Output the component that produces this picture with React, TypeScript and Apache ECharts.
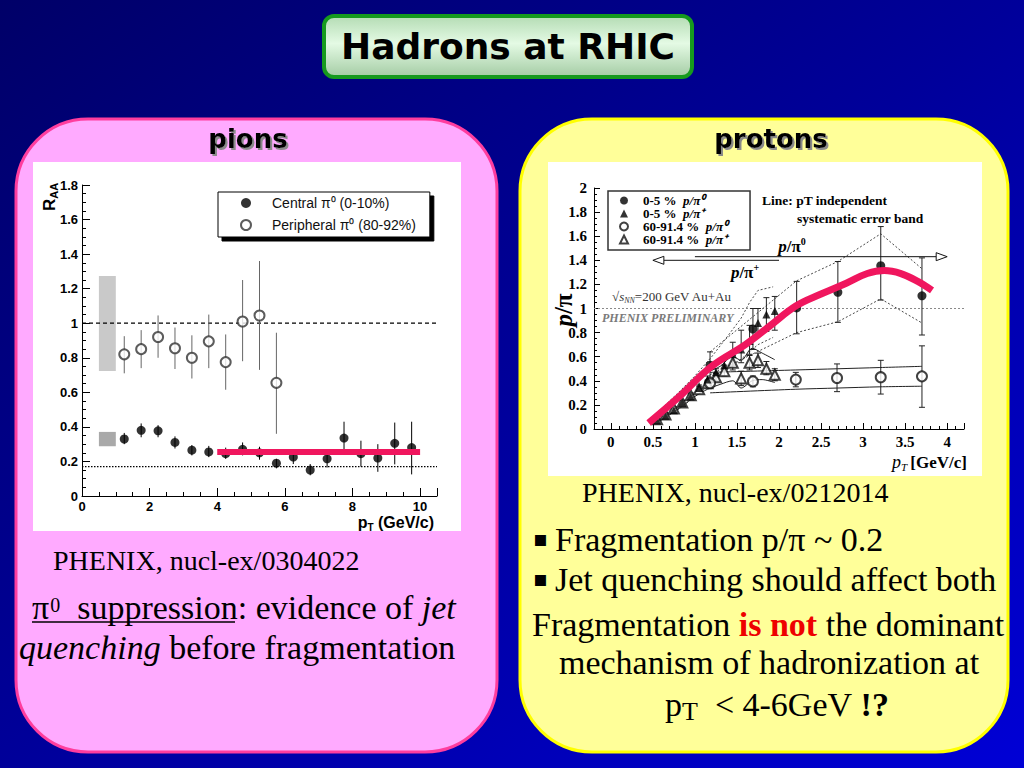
import React, { useEffect, useRef } from "react";
import * as echarts from "echarts";

// ================= Left chart: pi0 R_AA (PHENIX, nucl-ex/0304022) =================
const PION_X_MIN = 0;
const PION_X_MAX = 10.5;
const PION_X_STEP = 2;
const PION_Y_MIN = 0;
const PION_Y_MAX = 1.8;
const PION_Y_STEP = 0.2;

const CENTRAL_NAME = "Central π⁰ (0-10%)";
const PERIPH_NAME = "Peripheral π⁰ (80-92%)";

const CENTRAL_PT = [1.25, 1.75, 2.25, 2.75, 3.25, 3.75, 4.25, 4.75, 5.25, 5.75, 6.25, 6.75, 7.25, 7.75, 8.25, 8.75, 9.25, 9.75];
const CENTRAL_RAA = [0.33, 0.38, 0.377, 0.31, 0.265, 0.255, 0.245, 0.27, 0.25, 0.19, 0.225, 0.15, 0.215, 0.335, 0.245, 0.22, 0.305, 0.28];
const CENTRAL_LO = [0.3, 0.34, 0.34, 0.275, 0.235, 0.225, 0.215, 0.235, 0.21, 0.16, 0.185, 0.12, 0.165, 0.265, 0.17, 0.14, 0.183, 0.125];
const CENTRAL_HI = [0.365, 0.42, 0.41, 0.345, 0.295, 0.29, 0.28, 0.31, 0.285, 0.215, 0.26, 0.185, 0.26, 0.43, 0.32, 0.3, 0.425, 0.43];

const PERIPH_PT = [1.25, 1.75, 2.25, 2.75, 3.25, 3.75, 4.25, 4.75, 5.25, 5.75];
const PERIPH_RAA = [0.82, 0.85, 0.92, 0.855, 0.8, 0.895, 0.775, 1.01, 1.045, 0.655];
const PERIPH_LO = [0.71, 0.74, 0.8, 0.735, 0.68, 0.74, 0.615, 0.78, 0.73, 0.36];
const PERIPH_HI = [0.925, 0.96, 1.045, 0.975, 0.93, 1.05, 0.935, 1.25, 1.36, 0.945];

const PION_SYS_X = [0.5, 1.0];
const PION_SYS_PERIPH = [0.724, 1.273];
const PION_SYS_CENTRAL = [0.288, 0.371];
const PION_UNITY = 1;
const PION_NCOLL_SCALING = 0.17;
const PION_FIT_PT = [4, 10];
const PION_FIT_RAA = [0.255, 0.255];

// ================= Right chart: p/pi (PHENIX, nucl-ex/0212014) =================
const PROT_X_MIN = -0.2;
const PROT_X_MAX = 4.2;
const PROT_Y_MIN = 0;
const PROT_Y_MAX = 2;
const PROT_Y_STEP = 0.2;

const C_PI0_NAME = "0-5 %  p/π⁰";
const C_PIP_NAME = "0-5 %  p/π⁺";
const P_PI0_NAME = "60-91.4 %  p/π⁰";
const P_PIP_NAME = "60-91.4 %  p/π⁺";

const C_PI0_PT = [1.18, 1.69, 2.21, 2.7, 3.21, 3.7];
const C_PI0_R = [0.53, 0.83, 1.005, 1.135, 1.355, 1.105];
const C_PI0_LO = [0.43, 0.66, 0.79, 0.885, 1.07, 0.78];
const C_PI0_HI = [0.64, 1.0, 1.225, 1.39, 1.68, 1.42];

const C_PIP_PT = [0.55, 0.65, 0.75, 0.85, 0.95, 1.05, 1.15, 1.25, 1.35, 1.45, 1.55, 1.65, 1.75, 1.85, 1.95];
const C_PIP_R = [0.07, 0.11, 0.155, 0.215, 0.27, 0.34, 0.41, 0.47, 0.53, 0.62, 0.66, 0.73, 0.88, 0.95, 0.98];
const C_PIP_LO = [0.06, 0.095, 0.14, 0.195, 0.25, 0.315, 0.38, 0.44, 0.48, 0.53, 0.55, 0.62, 0.78, 0.81, 0.82];
const C_PIP_HI = [0.08, 0.125, 0.17, 0.235, 0.29, 0.365, 0.44, 0.5, 0.58, 0.72, 0.82, 0.86, 1.0, 1.09, 1.1];

const P_PI0_PT = [1.18, 1.69, 2.2, 2.69, 3.21, 3.7];
const P_PI0_R = [0.38, 0.395, 0.41, 0.423, 0.43, 0.437];
const P_PI0_LO = [0.35, 0.35, 0.35, 0.31, 0.29, 0.18];
const P_PI0_HI = [0.41, 0.44, 0.47, 0.54, 0.57, 0.69];

const P_PIP_PT = [0.55, 0.65, 0.75, 0.85, 0.95, 1.05, 1.15, 1.25, 1.35, 1.45, 1.55, 1.65, 1.75, 1.85, 1.95];
const P_PIP_R = [0.08, 0.12, 0.17, 0.22, 0.28, 0.33, 0.38, 0.43, 0.48, 0.55, 0.42, 0.55, 0.57, 0.5, 0.45];
const P_PIP_LO = [0.07, 0.105, 0.155, 0.2, 0.26, 0.31, 0.355, 0.4, 0.44, 0.49, 0.36, 0.49, 0.51, 0.45, 0.4];
const P_PIP_HI = [0.09, 0.135, 0.185, 0.24, 0.3, 0.35, 0.405, 0.46, 0.53, 0.61, 0.48, 0.61, 0.63, 0.56, 0.5];

// systematic error bands
const C_PI0_BAND_PT = [1.18, 2.21, 2.7, 3.21, 3.7];
const C_PI0_BAND_HI = [0.64, 1.23, 1.39, 1.62, 1.33];
const C_PI0_BAND_LO = [0.45, 0.8, 0.89, 1.08, 0.88];
const C_PIP_BAND_PT = [0.5, 0.8, 1.0, 1.2, 1.4, 1.55, 1.65, 1.75, 1.93];
const C_PIP_BAND_HI = [0.1, 0.3, 0.44, 0.6, 0.78, 0.92, 1.05, 1.15, 1.18];
const C_PIP_BAND_LO = [0.04, 0.16, 0.27, 0.38, 0.5, 0.58, 0.64, 0.7, 0.76];
const P_PI0_BAND_PT = [1.18, 2.2, 2.7, 3.2, 3.7];
const P_PI0_BAND_HI = [0.47, 0.49, 0.5, 0.51, 0.52];
const P_PI0_BAND_LO = [0.3, 0.33, 0.34, 0.35, 0.355];
const P_PIP_BAND_PT = [0.55, 0.7, 0.85, 1.0, 1.15, 1.3, 1.45, 1.55, 1.68, 1.8, 1.95];
const P_PIP_BAND_HI = [0.11, 0.2, 0.28, 0.4, 0.47, 0.52, 0.6, 0.57, 0.67, 0.63, 0.575];
const P_PIP_BAND_LO = [0.05, 0.12, 0.19, 0.27, 0.33, 0.37, 0.4, 0.34, 0.4, 0.41, 0.385];

const PROT_UNITY = 1;
// arrows: [from, to, y]
const ARROW_PI0 = [1.0, 4.0, 1.43];
const ARROW_PIP = [2.0, 0.5, 1.4];

// hand-drawn trend (pink)
const TREND_PT = [0.45, 0.8, 1.2, 1.6, 1.9, 2.2, 2.5, 2.8, 3.05, 3.25, 3.45, 3.65, 3.82];
const TREND_R = [0.05, 0.26, 0.52, 0.7, 0.86, 1.02, 1.12, 1.21, 1.29, 1.315, 1.29, 1.225, 1.15];

// ================= helpers =================
const SERIF = "'Liberation Serif', 'Times New Roman', serif";
const SANS = "'Liberation Sans', Arial, sans-serif";
const COMIC = "'DejaVu Sans', sans-serif";
const PINK = "#f0165e";

const zip = (...cols: number[][]) => cols[0].map((_, i) => cols.map((c) => c[i]));

const errorBars = (idx: number, xs: number[], lo: number[], hi: number[], color: string, cap: number) => ({
  type: "custom",
  xAxisIndex: idx,
  yAxisIndex: idx,
  silent: true,
  z: 3,
  data: zip(xs, lo, hi),
  encode: { x: 0, y: [1, 2] },
  renderItem: (_p: any, api: any) => {
    const x = api.value(0);
    const a = api.coord([x, api.value(1)]);
    const b = api.coord([x, api.value(2)]);
    const style = { stroke: color, lineWidth: 1 };
    const kids: any[] = [{ type: "line", shape: { x1: a[0], y1: a[1], x2: b[0], y2: b[1] }, style }];
    if (cap > 0) {
      kids.push({ type: "line", shape: { x1: a[0] - cap, y1: a[1], x2: a[0] + cap, y2: a[1] }, style });
      kids.push({ type: "line", shape: { x1: b[0] - cap, y1: b[1], x2: b[0] + cap, y2: b[1] }, style });
    }
    return { type: "group", children: kids };
  },
});

const lineSeries = (idx: number, xs: number[], ys: number[], style: any, z = 2, smooth: any = false) => ({
  type: "line",
  xAxisIndex: idx,
  yAxisIndex: idx,
  data: zip(xs, ys),
  symbol: "none",
  silent: true,
  smooth,
  z,
  lineStyle: style,
});

const axisBase = (font: string, size: number, major: number, minor: number, split: number, margin: number) => ({
  axisLine: { show: true, onZero: false, lineStyle: { color: "#000", width: 1 } },
  axisTick: { show: true, inside: true, length: major, lineStyle: { color: "#000", width: 1 } },
  minorTick: { show: true, splitNumber: split, length: minor, lineStyle: { color: "#000", width: 1 } },
  splitLine: { show: false },
  minorSplitLine: { show: false },
  axisLabel: { color: "#000", fontFamily: font, fontSize: size, fontWeight: "bold", margin },
});

const text = (x: number, y: number, t: string, style: any, extra: any = {}) => ({
  type: "text",
  x,
  y,
  z: 60,
  silent: true,
  ...extra,
  style: { text: t, fill: "#000", align: "left", verticalAlign: "middle", ...style },
});

function buildOption(): any {
  const body = { fontFamily: SERIF, fontSize: 34, fill: "#000", lineHeight: 40 };
  const headerShadow = { textShadowColor: "#8a8a8a", textShadowOffsetX: 2, textShadowOffsetY: 2, textShadowBlur: 1 };
  const graphic: any[] = [
    // title box
    {
      type: "rect",
      z: 0,
      shape: { x: 324, y: 16, width: 368, height: 61, r: 10 },
      style: {
        fill: new echarts.graphic.LinearGradient(0, 0, 0, 1, [
          { offset: 0, color: "#b4dcb4" },
          { offset: 0.45, color: "#e4fae4" },
          { offset: 1, color: "#a4cca4" },
        ]),
        stroke: "#169a1e",
        lineWidth: 4,
      },
    },
    // panels
    {
      type: "rect",
      z: 0,
      shape: { x: 16, y: 119, width: 481, height: 633, r: 72 },
      style: { fill: "#ffaaff", stroke: "#ff3d9e", lineWidth: 3 },
    },
    {
      type: "rect",
      z: 0,
      shape: { x: 520, y: 119, width: 488, height: 633, r: 72 },
      style: { fill: "#ffff99", stroke: "#ffff00", lineWidth: 3 },
    },
    // white chart backgrounds
    { type: "rect", z: 0, shape: { x: 33, y: 162, width: 428, height: 369 }, style: { fill: "#fff" } },
    { type: "rect", z: 0, shape: { x: 548, y: 162, width: 434, height: 314 }, style: { fill: "#fff" } },

    // title & headers
    text(508, 46, "Hadrons at RHIC", { fontFamily: COMIC, fontSize: 36, fontWeight: "bold", align: "center" }),
    text(248, 139, "pions", { fontFamily: COMIC, fontSize: 26, fontWeight: "bold", align: "center", ...headerShadow }),
    text(771, 139, "protons", { fontFamily: COMIC, fontSize: 26, fontWeight: "bold", align: "center", ...headerShadow }),

    // left chart axis titles
    text(49, 197, "{r|R}{s|AA}", {
      align: "center",
      rich: {
        r: { fontFamily: SANS, fontSize: 17, fontWeight: "bold", fill: "#000", lineHeight: 20 },
        s: { fontFamily: SANS, fontSize: 11, fontWeight: "bold", fill: "#000", lineHeight: 12, verticalAlign: "bottom" },
      },
    }, { rotation: Math.PI / 2 }),
    text(434, 522, "{p|p}{s|T}{p| (GeV/c)}", {
      align: "right",
      rich: {
        p: { fontFamily: SANS, fontSize: 16, fontWeight: "bold", fill: "#000", lineHeight: 20 },
        s: { fontFamily: SANS, fontSize: 10, fontWeight: "bold", fill: "#000", lineHeight: 12, verticalAlign: "bottom" },
      },
    }),

    // right chart texts
    text(563, 310, "{i|p}{n|/π}", {
      align: "center",
      rich: {
        i: { fontFamily: SERIF, fontSize: 25, fontWeight: "bold", fontStyle: "italic", fill: "#000" },
        n: { fontFamily: SERIF, fontSize: 25, fontWeight: "bold", fill: "#000" },
      },
    }, { rotation: Math.PI / 2 }),
    text(967, 462, "{i|p}{s|T} {b|[GeV/c]}", {
      align: "right",
      rich: {
        i: { fontFamily: SERIF, fontSize: 18, fontStyle: "italic", fill: "#000", lineHeight: 20 },
        s: { fontFamily: SERIF, fontSize: 11, fontStyle: "italic", fill: "#000", lineHeight: 12, verticalAlign: "bottom" },
        b: { fontFamily: SERIF, fontSize: 17, fontWeight: "bold", fill: "#000", lineHeight: 20 },
      },
    }),
    text(762, 200, "Line: pT independent", { fontFamily: SERIF, fontSize: 13.5, fontWeight: "bold" }),
    text(797, 218, "systematic error band", { fontFamily: SERIF, fontSize: 13.5, fontWeight: "bold" }),
    text(612, 296, "{n|√}{o|s}{s|NN}{n|=200 GeV Au+Au}", {
      rich: {
        n: { fontFamily: SERIF, fontSize: 13, fill: "#333", lineHeight: 16 },
        o: { fontFamily: SERIF, fontSize: 13, fontStyle: "italic", fill: "#333", lineHeight: 16 },
        s: { fontFamily: SERIF, fontSize: 8, fontStyle: "italic", fill: "#333", lineHeight: 10, verticalAlign: "bottom" },
      },
    }),
    text(602, 318, "PHENIX PRELIMINARY", { fontFamily: SERIF, fontSize: 12, fontWeight: "bold", fontStyle: "italic", fill: "#7a7a7a" }),
    text(792, 246, "{i|p}{n|/π}{s|0}", {
      align: "center",
      rich: {
        i: { fontFamily: SERIF, fontSize: 17, fontWeight: "bold", fontStyle: "italic", fill: "#000", lineHeight: 20 },
        n: { fontFamily: SERIF, fontSize: 17, fontWeight: "bold", fill: "#000", lineHeight: 20 },
        s: { fontFamily: SERIF, fontSize: 10, fontWeight: "bold", fill: "#000", lineHeight: 12, verticalAlign: "top" },
      },
    }),
    text(745, 272, "{i|p}{n|/π}{s|+}", {
      align: "center",
      rich: {
        i: { fontFamily: SERIF, fontSize: 17, fontWeight: "bold", fontStyle: "italic", fill: "#000", lineHeight: 20 },
        n: { fontFamily: SERIF, fontSize: 17, fontWeight: "bold", fill: "#000", lineHeight: 20 },
        s: { fontFamily: SERIF, fontSize: 10, fontWeight: "bold", fill: "#000", lineHeight: 12, verticalAlign: "top" },
      },
    }),

    // left bottom texts
    text(53, 560, "PHENIX, nucl-ex/0304022", { fontFamily: SERIF, fontSize: 28 }),
    text(32, 607, "{n|π}{u|0}{n|  suppression: evidence of }{i|jet}", {
      rich: {
        n: body,
        u: { fontFamily: SERIF, fontSize: 20, fill: "#000", lineHeight: 20, verticalAlign: "middle", padding: [0, 0, 5, 1] },
        i: { ...body, fontStyle: "italic" },
      },
    }),
    { type: "line", z: 60, shape: { x1: 32, y1: 622, x2: 235, y2: 622 }, style: { stroke: "#000", lineWidth: 1.6 } },
    text(19, 647, "{i|quenching}{n| before fragmentation}", {
      rich: { n: body, i: { ...body, fontStyle: "italic" } },
    }),

    // right bottom texts
    text(582, 492, "PHENIX, nucl-ex/0212014", { fontFamily: SERIF, fontSize: 28 }),
    text(533, 538, "▪", { fontFamily: "'DejaVu Sans', sans-serif", fontSize: 22 }),
    text(555, 539, "Fragmentation p/π ~ 0.2", { fontFamily: SERIF, fontSize: 34 }),
    text(533, 578, "▪", { fontFamily: "'DejaVu Sans', sans-serif", fontSize: 22 }),
    text(555, 579, "Jet quenching should affect both", { fontFamily: SERIF, fontSize: 34 }),
    text(532, 624, "{n|Fragmentation }{r|is not}{n| the dominant}", {
      rich: { n: body, r: { ...body, fontWeight: "bold", fill: "#ee0000" } },
    }),
    text(769, 662, "mechanism of hadronization at", { fontFamily: SERIF, fontSize: 34, align: "center" }),
    text(665, 704, "{n|p}{s|T}{n|  < 4-6GeV }{b|!?}", {
      rich: {
        n: body,
        s: { fontFamily: SERIF, fontSize: 26, fill: "#000", lineHeight: 22, verticalAlign: "bottom" },
        b: { ...body, fontWeight: "bold" },
      },
    }),
  ];

  const fmtEvery = (step: number) => (v: number) => {
    const k = v / step;
    if (Math.abs(k - Math.round(k)) > 1e-6 || v < -1e-9) return "";
    return String(Math.round(v * 10) / 10);
  };

  const leftLegendFormatter = (name: string) => `{sp| }{t|${name}}`;
  const rightLegendFormatter = (name: string) => {
    const [a, b] = name.split("  ");
    return `{sp| }{a|${a}}  {b|${b}}`;
  };

  const option: any = {
    animation: false,
    backgroundColor: new echarts.graphic.LinearGradient(0, 0, 1, 1, [
      { offset: 0, color: "#000068" },
      { offset: 0.5, color: "#00009a" },
      { offset: 1, color: "#0000d6" },
    ]),
    graphic,
    grid: [
      { left: 82, top: 185, width: 355, height: 311, show: true, borderColor: "#000", borderWidth: 1, backgroundColor: "transparent", containLabel: false, outerBoundsMode: "none" },
      { left: 594, top: 188, width: 370, height: 241, show: true, borderColor: "#111", borderWidth: 1.2, backgroundColor: "transparent", containLabel: false, outerBoundsMode: "none" },
    ],
    xAxis: [
      {
        gridIndex: 0, type: "value", min: PION_X_MIN, max: PION_X_MAX, interval: PION_X_STEP,
        ...axisBase(SANS, 13, 8, 4, 4, 4),
        axisLabel: { color: "#000", fontFamily: SANS, fontSize: 13, fontWeight: "bold", margin: 4, formatter: fmtEvery(PION_X_STEP) },
      },
      {
        gridIndex: 1, type: "value", min: PROT_X_MIN, max: PROT_X_MAX, splitNumber: 9,
        ...axisBase(SERIF, 15, 6, 3, 5, 5),
        axisLabel: { color: "#000", fontFamily: SERIF, fontSize: 15, fontWeight: "bold", margin: 5, formatter: fmtEvery(0.5) },
      },
    ],
    yAxis: [
      {
        gridIndex: 0, type: "value", min: PION_Y_MIN, max: PION_Y_MAX, interval: PION_Y_STEP,
        ...axisBase(SANS, 13, 8, 4, 4, 4),
      },
      {
        gridIndex: 1, type: "value", min: PROT_Y_MIN, max: PROT_Y_MAX, interval: PROT_Y_STEP,
        ...axisBase(SERIF, 15, 6, 3, 4, 7),
      },
    ],
    legend: [
      {
        data: [CENTRAL_NAME, PERIPH_NAME],
        orient: "vertical",
        left: 218,
        top: 192,
        padding: [4, 14, 5, 22],
        itemWidth: 10,
        itemHeight: 10,
        itemGap: 8,
        backgroundColor: "#fff",
        borderColor: "#000",
        borderWidth: 1,
        borderRadius: 0,
        shadowColor: "#000",
        shadowBlur: 0,
        shadowOffsetX: 4,
        shadowOffsetY: 4,
        selectedMode: false,
        formatter: leftLegendFormatter,
        textStyle: {
          fontFamily: SANS,
          fontSize: 14,
          color: "#111",
          rich: {
            sp: { width: 16, fontSize: 14 },
            t: { fontFamily: SANS, fontSize: 14, color: "#111" },
          },
        },
      },
      {
        data: [C_PI0_NAME, C_PIP_NAME, P_PI0_NAME, P_PIP_NAME],
        orient: "vertical",
        left: 608,
        top: 191,
        padding: [3, 22, 4, 11],
        itemWidth: 8,
        itemHeight: 8,
        itemGap: 0,
        backgroundColor: "#fff",
        borderColor: "#333",
        borderWidth: 1.5,
        borderRadius: 0,
        selectedMode: false,
        formatter: rightLegendFormatter,
        textStyle: {
          fontFamily: SERIF,
          fontSize: 13,
          fontWeight: "bold",
          color: "#000",
          lineHeight: 12.8,
          rich: {
            sp: { width: 10, fontSize: 13, lineHeight: 12.8 },
            a: { fontFamily: SERIF, fontSize: 13, fontWeight: "bold", color: "#000", lineHeight: 12.8 },
            b: { fontFamily: SERIF, fontSize: 13, fontWeight: "bold", fontStyle: "italic", color: "#000", lineHeight: 12.8 },
          },
        },
      },
    ],
    series: [
      // ---------- left ----------
      {
        type: "custom",
        xAxisIndex: 0,
        yAxisIndex: 0,
        silent: true,
        z: 1,
        data: [
          [PION_SYS_X[0], PION_SYS_X[1], PION_SYS_PERIPH[0], PION_SYS_PERIPH[1], 0],
          [PION_SYS_X[0], PION_SYS_X[1], PION_SYS_CENTRAL[0], PION_SYS_CENTRAL[1], 1],
        ],
        encode: { x: [0, 1], y: [2, 3] },
        renderItem: (_p: any, api: any) => {
          const a = api.coord([api.value(0), api.value(3)]);
          const b = api.coord([api.value(1), api.value(2)]);
          return {
            type: "rect",
            shape: { x: a[0], y: a[1], width: b[0] - a[0], height: b[1] - a[1] },
            style: { fill: api.value(4) === 0 ? "#c9c9c9" : "#a9a9a9" },
          };
        },
      },
      lineSeries(0, [PION_X_MIN, PION_X_MAX], [PION_UNITY, PION_UNITY], { color: "#000", width: 1.3, type: [4, 3] }),
      lineSeries(0, [PION_X_MIN, PION_X_MAX], [PION_NCOLL_SCALING, PION_NCOLL_SCALING], { color: "#000", width: 1.3, type: [1.5, 1.5] }),
      errorBars(0, PERIPH_PT, PERIPH_LO, PERIPH_HI, "#666", 0),
      errorBars(0, CENTRAL_PT, CENTRAL_LO, CENTRAL_HI, "#000", 0),
      {
        name: PERIPH_NAME,
        type: "scatter",
        xAxisIndex: 0,
        yAxisIndex: 0,
        data: zip(PERIPH_PT, PERIPH_RAA),
        symbol: "emptyCircle",
        symbolSize: 10,
        z: 4,
        itemStyle: { color: "#333", borderWidth: 1 },
      },
      {
        name: CENTRAL_NAME,
        type: "scatter",
        xAxisIndex: 0,
        yAxisIndex: 0,
        data: zip(CENTRAL_PT, CENTRAL_RAA),
        symbol: "circle",
        symbolSize: 9,
        z: 4,
        itemStyle: { color: "#000" },
      },
      lineSeries(0, PION_FIT_PT, PION_FIT_RAA, { color: PINK, width: 6, cap: "butt" }, 5),

      // ---------- right ----------
      lineSeries(1, [PROT_X_MIN, PROT_X_MAX], [PROT_UNITY, PROT_UNITY], { color: "#8a8a8a", width: 1, type: [2, 2] }),
      lineSeries(1, C_PI0_BAND_PT, C_PI0_BAND_HI, { color: "#333", width: 0.9, type: [2, 2] }),
      lineSeries(1, C_PI0_BAND_PT, C_PI0_BAND_LO, { color: "#333", width: 0.9, type: [2, 2] }),
      lineSeries(1, C_PIP_BAND_PT, C_PIP_BAND_HI, { color: "#333", width: 0.9, type: [2, 2] }),
      lineSeries(1, C_PIP_BAND_PT, C_PIP_BAND_LO, { color: "#333", width: 0.9, type: [2, 2] }),
      lineSeries(1, P_PI0_BAND_PT, P_PI0_BAND_HI, { color: "#222", width: 1 }, 2, 0.3),
      lineSeries(1, P_PI0_BAND_PT, P_PI0_BAND_LO, { color: "#222", width: 1 }, 2, 0.3),
      lineSeries(1, P_PIP_BAND_PT, P_PIP_BAND_HI, { color: "#222", width: 1 }, 2, 0.3),
      lineSeries(1, P_PIP_BAND_PT, P_PIP_BAND_LO, { color: "#222", width: 1 }, 2, 0.3),
      errorBars(1, C_PI0_PT, C_PI0_LO, C_PI0_HI, "#222", 3),
      errorBars(1, C_PIP_PT, C_PIP_LO, C_PIP_HI, "#222", 3),
      errorBars(1, P_PI0_PT, P_PI0_LO, P_PI0_HI, "#222", 3),
      errorBars(1, P_PIP_PT, P_PIP_LO, P_PIP_HI, "#222", 3),
      {
        name: P_PIP_NAME, type: "scatter", xAxisIndex: 1, yAxisIndex: 1,
        data: zip(P_PIP_PT, P_PIP_R), symbol: "emptyTriangle", symbolSize: 10, z: 4,
        itemStyle: { color: "#111", borderWidth: 1 },
      },
      {
        name: P_PI0_NAME, type: "scatter", xAxisIndex: 1, yAxisIndex: 1,
        data: zip(P_PI0_PT, P_PI0_R), symbol: "emptyCircle", symbolSize: 10, z: 4,
        itemStyle: { color: "#111", borderWidth: 1 },
      },
      {
        name: C_PIP_NAME, type: "scatter", xAxisIndex: 1, yAxisIndex: 1,
        data: zip(C_PIP_PT, C_PIP_R), symbol: "triangle", symbolSize: 8, z: 4,
        itemStyle: { color: "#000" },
      },
      {
        name: C_PI0_NAME, type: "scatter", xAxisIndex: 1, yAxisIndex: 1,
        data: zip(C_PI0_PT, C_PI0_R), symbol: "circle", symbolSize: 9, z: 4,
        itemStyle: { color: "#000" },
      },
      {
        type: "custom",
        xAxisIndex: 1,
        yAxisIndex: 1,
        silent: true,
        z: 3,
        data: [ARROW_PI0, ARROW_PIP],
        encode: { x: [0, 1], y: 2 },
        renderItem: (_p: any, api: any) => {
          const p0 = api.coord([api.value(0), api.value(2)]);
          const p1 = api.coord([api.value(1), api.value(2)]);
          const dir = p1[0] > p0[0] ? 1 : -1;
          const L = 11;
          const W = 4;
          return {
            type: "group",
            children: [
              { type: "line", shape: { x1: p0[0], y1: p0[1], x2: p1[0] - dir * L, y2: p1[1] }, style: { stroke: "#111", lineWidth: 1 } },
              {
                type: "polygon",
                shape: { points: [[p1[0], p1[1]], [p1[0] - dir * L, p1[1] - W], [p1[0] - dir * L, p1[1] + W]] },
                style: { fill: "#fff", stroke: "#111", lineWidth: 1 },
              },
            ],
          };
        },
      },
      lineSeries(1, TREND_PT, TREND_R, { color: PINK, width: 7, cap: "butt" }, 5, 0.4),
    ],
  };
  return option;
}

export default function App() {
  const ref = useRef<HTMLDivElement>(null);
  useEffect(() => {
    if (!ref.current) return;
    const chart = echarts.init(ref.current, null, { renderer: "svg" });
    chart.setOption(buildOption());
    return () => chart.dispose();
  }, []);
  return <div ref={ref} style={{ position: "fixed", left: 0, top: 0, width: 1024, height: 768 }} />;
}
